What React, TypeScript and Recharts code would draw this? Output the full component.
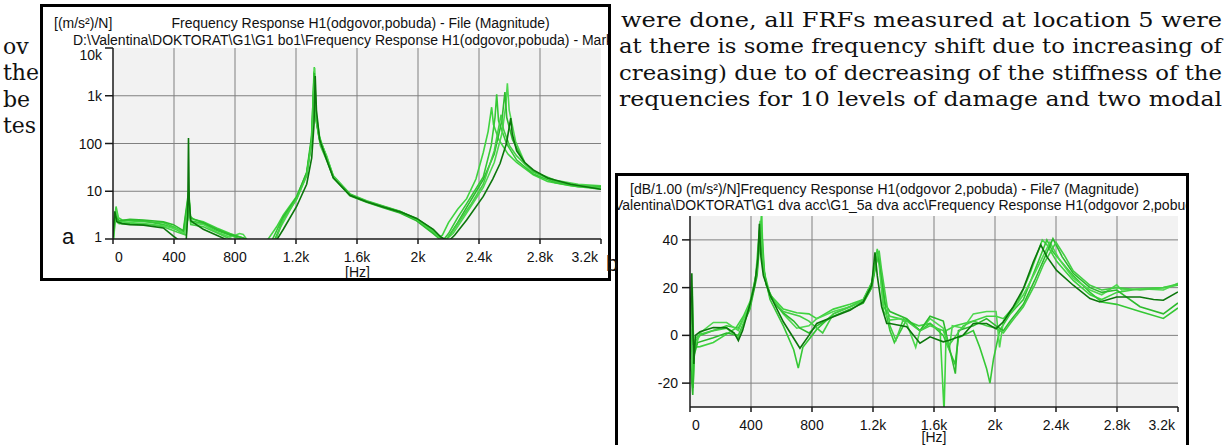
import React from 'react';
import { LineChart, Line, XAxis, YAxis, CartesianGrid } from 'recharts';

type Pt = [number, number];

const SANS = '"Liberation Sans", Arial, sans-serif';
const SERIF = '"DejaVu Serif", Georgia, serif';

// shared axis ticks
const freqTicks = [0, 400, 800, 1200, 1600, 2000, 2400, 2800, 3200];
const freqGrid = [400, 800, 1200, 1600, 2000, 2400, 2800];
const magTicks = [1, 10, 100, 1000, 10000];
const magGrid = [10, 100, 1000];
const dbTicks = [-20, 0, 20, 40];

// page text around the two screenshots
const bodyLeft = ['ov', 'the', 'be', 'tes'];
const bodyRight = [
  'were done, all FRFs measured at location 5 were',
  'at there is some frequency shift due to increasing of',
  'creasing) due to of decreasing of the stiffness of the',
  'requencies for 10 levels of damage and two modal',
];

// (a) magnitude [(m/s²)/N], log scale — [Hz, value]
const magDark: Pt[] = [[0,1.1],[12,3.8],[25,2.3],[60,2.1],[111,2.0],[200,1.95],[330,1.7],[396,1.15],[440,0.9],[480,0.95],[490,3],[495,130],[500,6],[510,2.4],[527,2.2],[592,1.6],[680,1.2],[767,0.9],[860,0.7],[960,0.6],[1073,0.95],[1117,1.6],[1204,4.8],[1270,14],[1303,50],[1318,250],[1326,2600],[1334,500],[1355,120],[1401,45],[1445,19],[1554,8.2],[1663,6.0],[1772,4.7],[1882,3.7],[1991,2.7],[2100,1.6],[2150,1.1],[2200,0.9],[2240,1.2],[2319,2.5],[2428,7.8],[2490,18],[2538,38],[2580,100],[2608,340],[2618,160],[2647,70],[2700,40],[2756,28],[2850,19],[3000,14],[3200,11]];
const magL1: Pt[] = [[0,0.8],[10,2.5],[20,4.8],[35,2.8],[60,2.5],[111,2.4],[200,2.3],[330,2.2],[396,1.8],[461,1.4],[490,2.5],[498,10],[505,3],[527,2.6],[592,2.3],[680,1.7],[767,1.3],[854,1.05],[900,0.9],[964,0.8],[1008,0.9],[1073,1.8],[1117,3.2],[1204,7.8],[1270,24],[1303,120],[1314,700],[1320,4000],[1328,400],[1350,150],[1401,50],[1445,20],[1554,8.4],[1663,6.1],[1772,4.8],[1882,3.76],[1991,2.7],[2100,1.55],[2140,1.1],[2160,1.2],[2200,2.2],[2260,4.2],[2319,7],[2380,18],[2428,65],[2460,180],[2483,575],[2495,250],[2530,120],[2590,60],[2647,40],[2756,22],[2850,16],[3000,13],[3200,11]];
const magL2: Pt[] = [[0,1],[15,3.5],[30,2.2],[111,2.5],[200,2.4],[330,2.0],[396,1.7],[461,1.3],[497,9],[510,2.4],[592,2.1],[680,1.5],[767,1.2],[854,0.95],[964,0.7],[1040,0.9],[1073,1.5],[1117,3.0],[1204,7],[1270,22],[1300,100],[1312,800],[1318,3200],[1326,500],[1350,140],[1401,52],[1445,21],[1554,8.8],[1663,6.3],[1772,4.9],[1882,3.8],[1991,2.6],[2100,1.4],[2160,0.9],[2200,1.3],[2260,2.8],[2319,5.5],[2428,20],[2480,90],[2505,350],[2516,1070],[2528,300],[2580,100],[2647,45],[2756,23],[2900,15],[3050,12.5],[3200,12]];
const magL3: Pt[] = [[0,0.7],[20,4],[40,2.3],[111,2.2],[200,2.1],[330,1.9],[420,1.6],[470,1.3],[496,8],[510,2.2],[592,2.0],[680,1.4],[767,1.1],[830,1.3],[854,1.25],[880,0.95],[964,0.6],[1060,0.9],[1100,1.8],[1204,7.2],[1270,23],[1305,130],[1316,900],[1322,3800],[1330,450],[1360,110],[1401,55],[1445,20],[1554,8.2],[1663,6.0],[1772,4.6],[1882,3.6],[1991,2.5],[2100,1.35],[2170,0.9],[2230,1.3],[2319,3.5],[2428,12],[2500,40],[2550,160],[2575,600],[2586,1830],[2598,500],[2640,110],[2700,40],[2756,26],[2900,17],[3050,14],[3200,13]];
const magL4: Pt[] = [[0,1.2],[15,3],[40,2.4],[111,2.6],[200,2.5],[330,2.3],[396,2.0],[461,1.5],[496,10],[505,2.8],[592,2.2],[680,1.6],[767,1.25],[854,1.05],[940,0.8],[1050,0.8],[1090,1.6],[1117,2.8],[1204,7.5],[1270,25],[1303,150],[1315,1500],[1320,3000],[1328,350],[1360,100],[1401,48],[1445,19],[1554,8.0],[1663,5.9],[1772,4.5],[1882,3.5],[1991,2.4],[2100,1.3],[2150,0.95],[2190,1.0],[2260,2.2],[2319,4.6],[2428,17.5],[2500,60],[2550,300],[2570,1200],[2582,350],[2620,120],[2700,38],[2756,26],[2900,16],[3050,13],[3200,12.5]];
const magL5: Pt[] = [[0,0.9],[15,2.7],[40,2.1],[111,2.1],[250,2.0],[330,1.8],[420,1.4],[480,1.2],[496,6],[510,2.0],[592,1.8],[680,1.35],[767,1.0],[854,0.8],[964,0.6],[1060,0.85],[1117,2.6],[1204,6.8],[1270,21],[1303,110],[1316,1200],[1324,2200],[1332,300],[1360,90],[1401,45],[1445,19],[1554,8.5],[1663,6.2],[1772,4.8],[1882,3.7],[1991,2.6],[2100,1.45],[2165,0.85],[2210,1.2],[2280,2.6],[2350,5.5],[2428,14],[2500,70],[2545,400],[2560,200],[2600,90],[2647,55],[2756,25],[2900,16.5],[3050,13],[3200,12]];

// (b) magnitude in dB — [Hz, dB]
const dbDark: Pt[] = [[0,-10],[5,15],[12,26],[18,5],[25,-12],[35,0],[66,1.5],[153,3.3],[240,3.2],[290,1],[317,-2.2],[345,2],[393,13],[426,22],[445,32],[455,46.7],[465,33],[481,25],[525,16.8],[612,5.7],[721,-5.4],[780,0],[831,5],[940,7.8],[1049,10.5],[1136,14],[1191,21],[1213,34.8],[1228,25],[1257,12],[1290,5],[1311,5],[1421,3.6],[1508,-3.3],[1574,-0.6],[1661,-2.7],[1700,-2],[1792,0.1],[1858,5],[1945,5],[2007,2.8],[2055,5.7],[2120,12],[2186,19.6],[2251,30.7],[2300,37.9],[2340,33],[2404,27.2],[2513,21],[2623,15.4],[2688,14],[2798,16.1],[2951,16.1],[3040,15],[3104,14.7],[3200,18.2]];
const dbL1: Pt[] = [[0,5],[10,-3],[20,-22],[30,-5],[66,-4.7],[153,-3],[240,0.5],[300,3],[350,8],[393,14],[430,24],[455,38],[470,52],[480,28],[525,17],[612,11],[700,9.5],[780,9],[831,7],[940,11],[1049,13],[1136,15],[1191,22],[1228,36.2],[1245,28],[1270,12],[1311,8],[1400,6.6],[1500,4],[1574,5],[1640,2],[1666,-32],[1680,2],[1740,4],[1858,6],[1945,8],[2007,8],[2055,7],[2150,14],[2230,26],[2310,40],[2340,38],[2404,31],[2513,23],[2623,17],[2700,15],[2798,18],[2951,19.5],[3104,20],[3200,21]];
const dbL2: Pt[] = [[0,-15],[8,10],[15,20],[25,-8],[40,-2],[66,0],[153,2],[240,4],[317,3],[393,12],[440,27],[462,45],[475,40],[490,25],[525,15],[612,4],[680,-6],[710,-13.7],[740,-5],[831,2.5],[940,9],[1049,12],[1136,14.5],[1191,21],[1235,35],[1250,26],[1290,8],[1311,2],[1340,-3],[1421,6.6],[1508,1.9],[1574,5],[1661,0],[1738,-12],[1760,-1],[1858,2],[1900,-5],[1945,-14],[1967,-20],[1990,-10],[2030,2],[2100,9],[2186,15],[2260,27],[2340,40],[2380,35],[2513,25],[2623,18],[2700,14],[2798,13],[2951,10],[3104,7.1],[3200,11.5]];
const dbL3: Pt[] = [[0,3],[15,1],[30,-6],[66,1],[153,5.4],[240,5.4],[317,2],[393,13],[426,21],[455,44],[470,35],[490,24],[525,17],[612,9],[700,3],[780,4],[831,7],[940,10],[1049,12],[1136,14],[1191,20],[1222,34],[1240,30],[1270,10],[1311,6.4],[1380,7],[1421,5],[1480,-5],[1508,1.9],[1574,7],[1661,3],[1700,-6],[1720,4],[1792,3],[1858,9],[1945,10],[2007,10],[2030,-5],[2055,6],[2120,11],[2186,17],[2260,26],[2360,39],[2420,32],[2513,24],[2623,19],[2700,17],[2798,21.2],[2830,19],[2951,19.5],[3104,19],[3200,21.8]];
const dbL4: Pt[] = [[0,-5],[10,-18],[18,-25],[28,-8],[50,-3],[153,-1],[240,1],[317,0],[393,11],[440,25],[458,40],[475,32],[500,21],[560,13],[612,9.4],[680,6],[721,3],[780,1],[831,4],[940,8],[1049,11],[1136,13.5],[1191,20],[1230,33],[1248,29],[1280,13],[1311,10],[1421,7],[1508,2],[1574,8],[1661,6],[1740,-16],[1760,2],[1858,4],[1945,7],[2007,4],[2055,2],[2100,6],[2186,13],[2260,23],[2380,40.5],[2440,33],[2513,26],[2623,20],[2700,18],[2798,19],[2951,12],[3104,9],[3200,13.6]];
const dbL5: Pt[] = [[0,8],[12,14],[22,-4],[40,-1],[66,0.5],[153,2],[240,3],[317,-1],[393,12],[440,28],[460,48],[472,38],[490,24],[525,16],[612,10],[721,8],[780,6],[831,3],[870,1],[940,9],[1049,12],[1136,15],[1191,22],[1240,35.5],[1255,28],[1300,9],[1311,4],[1350,-2],[1400,7],[1508,1.9],[1574,4],[1661,2],[1700,-4],[1792,4],[1858,6],[1945,4],[2007,3],[2055,1],[2100,5],[2186,12],[2260,21],[2320,30],[2400,39],[2460,33],[2513,27],[2623,21],[2700,19],[2798,20],[2951,19],[3104,20],[3200,21.5]];

const DARK = '#0b760b';
const lightColors = ['#3fd33f', '#35c835', '#4fd84f', '#2dbb2d', '#44cf44'];

const rows = (pts: Pt[]) => pts.map(([f, v]) => ({ f, v }));
const fmtK = (v: number) => (v >= 1000 ? `${v / 1000}k` : `${v}`);

const FreqTick = ({ x, y, payload }: any) => {
  const v = payload.value;
  const anchor = v === 0 ? 'start' : v === 3200 ? 'end' : 'middle';
  const dx = v === 0 ? 2 : v === 3200 ? -3 : 0;
  return (
    <text x={x + dx} y={y + 16} textAnchor={anchor} fontSize={14} fontFamily={SANS} fill="#111">
      {fmtK(v)}
    </text>
  );
};

const ValueTick = ({ x, y, payload }: any) => {
  const v = payload.value;
  const shift = v === 10000 ? 7 : v === 1 ? -2 : 0;
  return (
    <text x={x} y={y + 5 + shift} textAnchor="end" fontSize={14} fontFamily={SANS} fill="#111">
      {fmtK(v)}
    </text>
  );
};

const axisStyle = { stroke: '#1a1a1a', strokeWidth: 1.5 };

const Box = ({ left, top, width, height, children }: any) => (
  <div
    style={{
      position: 'absolute', left, top, width, height, boxSizing: 'border-box',
      border: '3px solid #000', background: '#fff', overflow: 'hidden',
    }}
  >
    {children}
  </div>
);

const seriesA = [magL1, magL2, magL3, magL4, magL5];
const seriesB = [dbL1, dbL2, dbL3, dbL4, dbL5];

const App = () => (
  <div style={{ position: 'absolute', left: 0, top: 0, width: 1229, height: 445, background: '#fff', overflow: 'hidden' }}>
    <svg width={1229} height={445} style={{ position: 'absolute', left: 0, top: 0 }}>
      {bodyLeft.map((t, i) => (
        <text key={t} x={3} y={54 + i * 26.3} fontSize={22} fontFamily={SERIF} fill="#111">{t}</text>
      ))}
      {bodyRight.map((t, i) => (
        <text key={t} x={i === 0 ? 621 : 619} y={27 + i * 26.3} fontSize={21} fontFamily={SERIF} fill="#111"
          textLength={i === 0 ? 601 : 603} lengthAdjust="spacingAndGlyphs">{t}</text>
      ))}
    </svg>

    {/* (a) log magnitude */}
    <Box left={40} top={4} width={571} height={277}>
      <LineChart width={565} height={271} margin={{ top: 41, right: 7, left: 0, bottom: 0 }}
        style={{ position: 'absolute', left: 0, top: 0 }}>
        <CartesianGrid fill="#f2f2f2" stroke="#808080" horizontalValues={magGrid} verticalValues={freqGrid} />
        <XAxis dataKey="f" type="number" domain={[0, 3200]} ticks={freqTicks} interval={0} allowDataOverflow
          height={39} tickSize={5} tickMargin={2} axisLine={axisStyle} tickLine={axisStyle} tick={<FreqTick />} />
        <YAxis type="number" scale="log" domain={[1, 10000]} ticks={magTicks} interval={0} allowDataOverflow
          width={70} tickSize={8} tickMargin={3} axisLine={axisStyle} tickLine={axisStyle} tick={<ValueTick />} />
        {seriesA.map((s, i) => (
          <Line key={i} data={rows(s)} dataKey="v" stroke={lightColors[i]} strokeWidth={1.6} dot={false}
            isAnimationActive={false} type="linear" />
        ))}
        <Line data={rows(magDark)} dataKey="v" stroke={DARK} strokeWidth={1.6} dot={false} isAnimationActive={false} type="linear" />
      </LineChart>
      <svg width={565} height={271} style={{ position: 'absolute', left: 0, top: 0, pointerEvents: 'none' }}
        fontFamily={SANS} fontSize={14} fill="#111">
        <text x={11} y={20.5}>[(m/s²)/N]</text>
        <text x={128.5} y={20.5}>Frequency Response H1(odgovor,pobuda) - File (Magnitude)</text>
        <text x={30} y={38}>D:\Valentina\DOKTORAT\G1\G1 bo1\Frequency Response H1(odgovor,pobuda) - Markers</text>
        <text x={19} y={237} fontSize={22}>a</text>
        <text x={314.5} y={269.5} textAnchor="middle">[Hz]</text>
      </svg>
    </Box>

    {/* (b) dB magnitude */}
    <Box left={615} top={173} width={574} height={300}>
      <LineChart width={568} height={270} margin={{ top: 40, right: 8, left: 0, bottom: 0 }}
        style={{ position: 'absolute', left: 0, top: 0 }}>
        <CartesianGrid fill="#f2f2f2" stroke="#808080" horizontalValues={dbTicks} verticalValues={freqGrid} />
        <XAxis dataKey="f" type="number" domain={[0, 3200]} ticks={freqTicks} interval={0} allowDataOverflow
          height={39} tickSize={5} tickMargin={2} axisLine={axisStyle} tickLine={axisStyle} tick={<FreqTick />} />
        <YAxis type="number" domain={[-30, 50]} ticks={dbTicks} interval={0} allowDataOverflow
          width={72} tickSize={8} tickMargin={4} axisLine={axisStyle} tickLine={axisStyle} tick={<ValueTick />} />
        {seriesB.map((s, i) => (
          <Line key={i} data={rows(s)} dataKey="v" stroke={lightColors[i]} strokeWidth={1.6} dot={false}
            isAnimationActive={false} type="linear" />
        ))}
        <Line data={rows(dbDark)} dataKey="v" stroke={DARK} strokeWidth={1.6} dot={false} isAnimationActive={false} type="linear" />
      </LineChart>
      <svg width={568} height={297} style={{ position: 'absolute', left: 0, top: 0, pointerEvents: 'none' }}
        fontFamily={SANS} fontSize={14} fill="#111">
        <text x={12} y={18}>[dB/1.00 (m/s²)/N]Frequency Response H1(odgovor 2,pobuda) - File7 (Magnitude)</text>
        <text x={-4} y={34}>Valentina\DOKTORAT\G1 dva acc\G1_5a dva acc\Frequency Response H1(odgovor 2,pobuda) - Markers</text>
        <text x={316} y={266} textAnchor="middle">[Hz]</text>
      </svg>
    </Box>

    <svg width={1229} height={445} style={{ position: 'absolute', left: 0, top: 0, pointerEvents: 'none' }}>
      <text x={606} y={271} fontSize={22} fontFamily={SANS} fill="#111">b</text>
    </svg>
  </div>
);

export default App;
